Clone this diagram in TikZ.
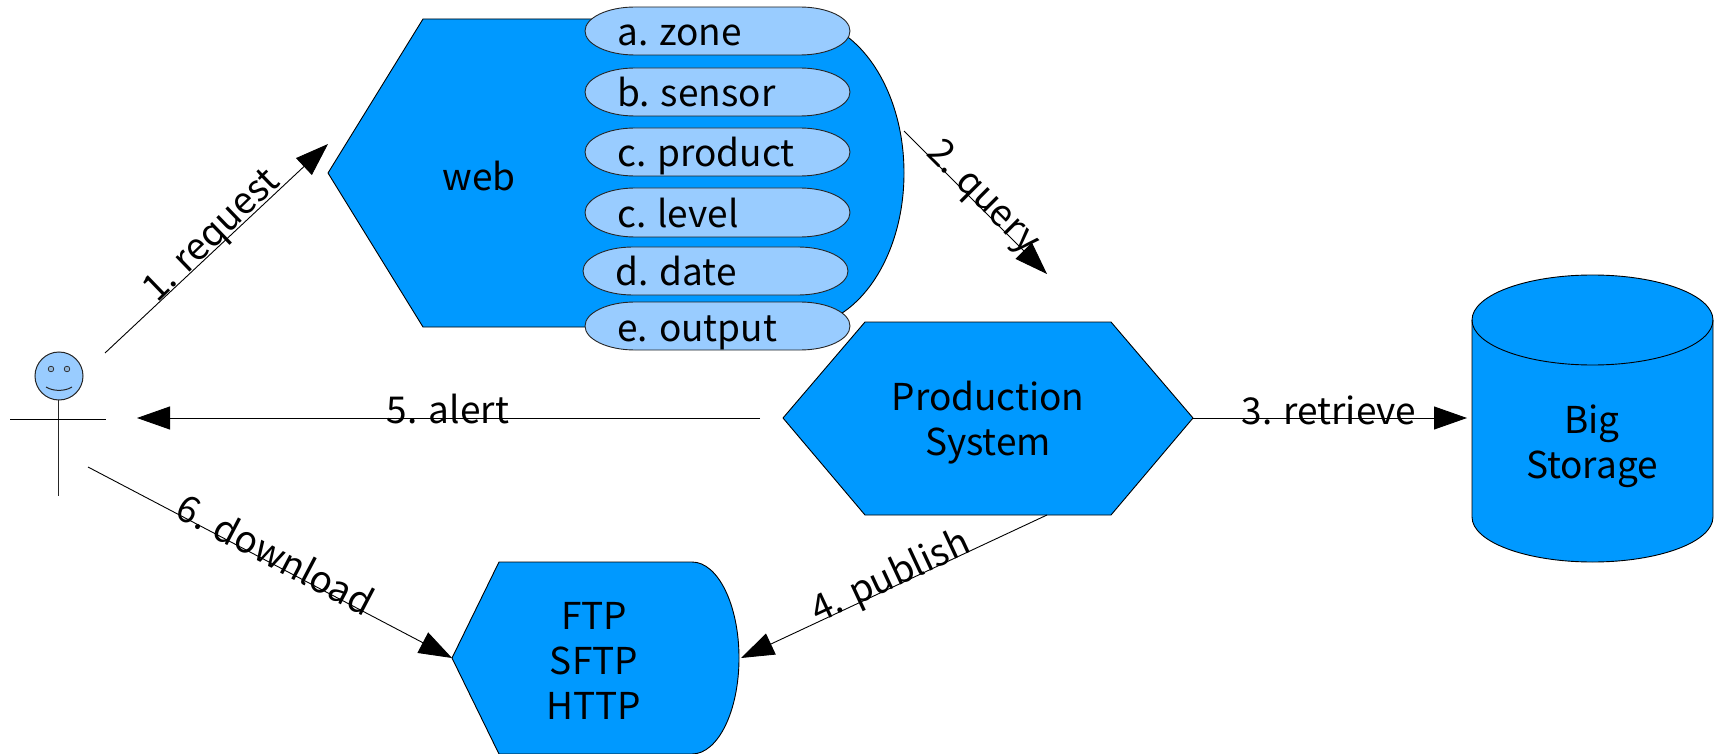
\documentclass[tikz,border=0pt]{standalone}
\usepackage{fontspec}
\setmainfont{Noto Sans CJK JP}
\usetikzlibrary{arrows.meta}
\definecolor{mainblue}{HTML}{0099FF}
\definecolor{lightblue}{HTML}{99CCFF}
\tikzset{
  shapebox/.style={draw=black,fill=mainblue,line width=0.9pt,line join=round},
  pillbox/.style={draw=black!85,fill=lightblue,line width=0.9pt},
  txt/.style={font=\fontsize{37}{45}\selectfont,align=center,inner sep=0pt},
  pilltxt/.style={font=\fontsize{37}{45}\selectfont,anchor=base west,inner sep=0pt},
  conn/.style={draw=black,line width=0.9pt,-{Triangle[length=33pt,width=23pt]}},
  figure/.style={draw=black!85,line width=1pt},
}
\newcommand{\pillshape}[3]{% left x, top y, bottom y
  \pgfmathsetmacro{\pl}{#1+50}\pgfmathsetmacro{\pr}{#1+215}\pgfmathsetmacro{\pry}{(#3-#2)/2}
  \draw[pillbox] (\pl,-#2) -- (\pr,-#2) arc[start angle=90,end angle=-90,x radius=50pt,y radius=\pry pt] -- (\pl,-#3) arc[start angle=270,end angle=90,x radius=50pt,y radius=\pry pt] -- cycle;
}
\begin{document}
\begin{tikzpicture}[x=1pt,y=1pt]
\useasboundingbox (0,-754) rectangle (1714,0);
% web
\draw[shapebox] (328,-173) -- (423,-19) -- (798,-19) arc[start angle=90,end angle=-90,x radius=106pt,y radius=154pt] -- (423,-327) -- cycle;
\node[txt] (web) at (479,-176) {web};
\pillshape{585}{7}{55}
\pillshape{585}{68}{116}
\pillshape{585}{128}{176}
\pillshape{585}{188}{237}
\pillshape{583}{247}{295}
\pillshape{585}{302}{350}
\node[pilltxt] (pa) at (617,-45.5) {a. zone};
\node[pilltxt] (pb) at (617,-106.5) {b. sensor};
\node[pilltxt] (pc) at (617,-166.5) {c. product};
\node[pilltxt] (pd) at (617,-227.5) {c. level};
\node[pilltxt] (pe) at (615,-285.5) {d. date};
\node[pilltxt] (pf) at (617,-341.5) {e. output};
% production system
\draw[shapebox] (783,-418) -- (865,-322) -- (1111,-322) -- (1193,-418) -- (1111,-515) -- (865,-515) -- cycle;
\node[txt] (prod) at (988,-423) {Production\\System};
% storage
\draw[shapebox] (1472,-320) -- (1472,-517) arc[start angle=180,end angle=360,x radius=120.5pt,y radius=45pt] -- (1713,-320) arc[start angle=0,end angle=180,x radius=120.5pt,y radius=45pt] -- cycle;
\draw[shapebox,fill=none] (1472,-320) arc[start angle=180,end angle=360,x radius=120.5pt,y radius=45pt];
\node[txt] (store) at (1592,-446) {Big\\Storage};
% ftp
\draw[shapebox] (452,-658) -- (499,-562) -- (692,-562) arc[start angle=90,end angle=-90,x radius=47pt,y radius=96pt] -- (499,-754) -- cycle;
\node[txt] (ftp) at (594,-661) {FTP\\SFTP\\HTTP};
% stick figure
\draw[figure,fill=lightblue] (59,-376) circle[radius=24pt];
\draw[figure,fill=lightblue!70!gray,line width=0.7pt] (51,-369) circle[radius=2.8pt];
\draw[figure,fill=lightblue!70!gray,line width=0.7pt] (67,-369) circle[radius=2.8pt];
\draw[figure] (46,-387) .. controls (53,-391.5) and (65,-391.5) .. (72,-387);
\draw[figure] (58,-400) -- (58,-496);
\draw[draw=black,line width=0.9pt] (10,-419) -- (106,-419);
% connector ends
\coordinate (r1) at (105,-353);
\coordinate (r2) at (328,-144);
\coordinate (q1) at (904,-131);
\coordinate (q2) at (1047,-274);
\coordinate (t1) at (1193,-418);
\coordinate (t2) at (1467,-418);
\coordinate (a1) at (760,-418);
\coordinate (a2) at (137,-418);
\coordinate (d1) at (88,-467);
\coordinate (d2) at (452,-658);
\coordinate (u1) at (1047,-515);
\coordinate (u2) at (741,-658);
\draw[conn] (r1) -- (r2);
\draw[conn] (q1) -- (q2);
\draw[conn] (t1) -- (t2);
\draw[conn] (a1) -- (a2);
\draw[conn] (d1) -- (d2);
\draw[conn] (u1) -- (u2);
% labels
\node[txt,rotate=44] (l1) at (213,-237) {1. request};
\node[txt,rotate=-45] (l2) at (982,-198) {2. query};
\node[txt] (l3) at (1329,-410) {3. retrieve};
\node[txt,rotate=25] (l4) at (891,-578) {4. publish};
\node[txt] (l5) at (448,-409) {5. alert};
\node[txt,rotate=-27.7] (l6) at (276,-554) {6. download};
\end{tikzpicture}
\end{document}
